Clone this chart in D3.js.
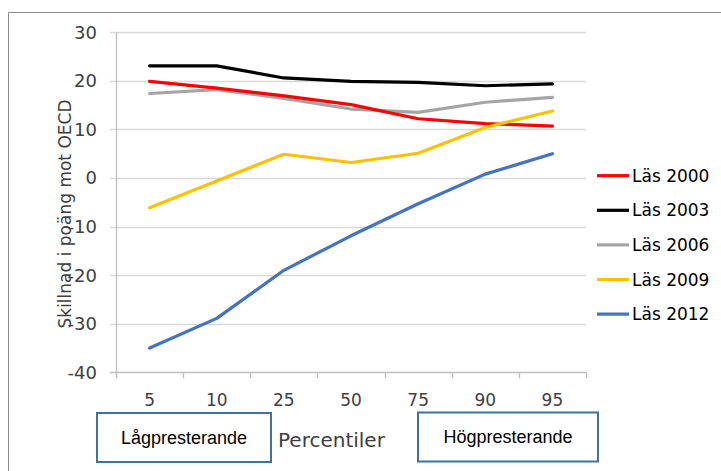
<!DOCTYPE html>
<html>
<head>
<meta charset="utf-8">
<script src="https://cdn.jsdelivr.net/npm/d3@7"></script>
<style>
  html, body { margin: 0; padding: 0; background: #fff; }
  svg { display: block; }
</style>
</head>
<body>
<svg id="chart" width="721" height="471"></svg>
<script>
const categories = ["5", "10", "25", "50", "75", "90", "95"];
const yTicks = [30, 20, 10, 0, -10, -20, -30, -40];
const las2000 = [19.9, 18.5, 16.9, 15.1, 12.2, 11.2, 10.7];
const las2003 = [23.1, 23.1, 20.6, 19.9, 19.7, 19.0, 19.4];
const las2006 = [17.4, 18.2, 16.4, 14.2, 13.5, 15.6, 16.6];
const las2009 = [-6.1, -0.6, 4.9, 3.2, 5.1, 10.4, 13.8];
const las2012 = [-35.0, -28.9, -19.0, -11.9, -5.3, 0.8, 5.0];
const seriesNames = ["Läs 2000", "Läs 2003", "Läs 2006", "Läs 2009", "Läs 2012"];
const seriesColors = ["#ff0000", "#000000", "#a5a5a5", "#ffc000", "#4472c4"];
const seriesValues = [las2000, las2003, las2006, las2009, las2012];
const drawOrder = [2, 1, 0, 3, 4];

const svg = d3.select("#chart");
const font = "'DejaVu Sans', sans-serif";

// outer frame
svg.append("path").attr("d", "M8.5,471 L8.5,12.5 L721,12.5")
  .attr("fill", "none").attr("stroke", "#8c8c8c").attr("stroke-width", 1);

const x = d3.scaleBand().domain(categories).range([116, 586]).padding(0);
const y = d3.scaleLinear().domain([-40, 30]).range([372.3, 32.3]);

// gridlines + y ticks
const grid = svg.append("g");
grid.selectAll("line").data(yTicks).enter().append("line")
  .attr("x1", 110).attr("x2", 586)
  .attr("y1", d => Math.round(y(d)) + 0.5).attr("y2", d => Math.round(y(d)) + 0.5)
  .attr("stroke", d => d === -40 ? "#bfbfbf" : "#d9d9d9").attr("stroke-width", 1.3);

// y axis line
svg.append("line").attr("x1", 116.5).attr("x2", 116.5)
  .attr("y1", y(30)).attr("y2", y(-40) + 6)
  .attr("stroke", "#bfbfbf").attr("stroke-width", 1.3);

// x axis ticks
const xAxis = d3.axisBottom(x).tickSize(0).tickFormat("");
const bounds = categories.map(c => x(c)).concat([x(categories[categories.length - 1]) + x.bandwidth()]);
svg.append("g").selectAll("line").data(bounds).enter().append("line")
  .attr("x1", d => Math.round(d) + 0.5).attr("x2", d => Math.round(d) + 0.5)
  .attr("y1", y(-40)).attr("y2", y(-40) + 6)
  .attr("stroke", "#bfbfbf").attr("stroke-width", 1.3);

// y tick labels
svg.append("g").selectAll("text").data(yTicks).enter().append("text")
  .attr("x", 97).attr("y", d => y(d))
  .attr("dy", "0.36em")
  .attr("text-anchor", "end")
  .attr("font-family", font).attr("font-size", 18).attr("fill", "#404040")
  .text(d => d);

// x tick labels
svg.append("g").selectAll("text").data(categories).enter().append("text")
  .attr("x", d => x(d) + x.bandwidth() / 2).attr("y", 406)
  .attr("text-anchor", "middle")
  .attr("font-family", font).attr("font-size", 17).attr("fill", "#404040")
  .text(d => d);

// y axis title
svg.append("text")
  .attr("transform", "translate(70.5,214) rotate(-90)")
  .attr("text-anchor", "middle")
  .attr("font-family", font).attr("font-size", 17).attr("fill", "#404040")
  .text("Skillnad i poäng mot OECD");

// x axis title
svg.append("text").attr("x", 278).attr("y", 447)
  .attr("font-family", font).attr("font-size", 20).attr("fill", "#404040")
  .text("Percentiler");

// lines
const line = d3.line()
  .x((d, i) => x(categories[i]) + x.bandwidth() / 2)
  .y(d => y(d));
svg.append("g").selectAll("path").data(drawOrder).enter().append("path")
  .attr("d", k => line(seriesValues[k]))
  .attr("fill", "none")
  .attr("stroke", k => seriesColors[k])
  .attr("stroke-width", 3.2)
  .attr("stroke-linejoin", "round")
  .attr("stroke-linecap", "round");

// legend
const legend = svg.append("g").selectAll("g").data(seriesNames).enter().append("g")
  .attr("transform", (d, i) => `translate(0,${175.7 + i * 34.6})`);
legend.append("line").attr("x1", 597).attr("x2", 629).attr("y1", 0).attr("y2", 0)
  .attr("stroke", (d, i) => seriesColors[i]).attr("stroke-width", 3.2);
legend.append("text").attr("x", 632).attr("y", 0).attr("dy", "0.36em")
  .attr("font-family", font).attr("font-size", 17).attr("fill", "#000")
  .text(d => d);

// annotation boxes
const boxes = [
  { label: "Lågpresterande", x0: 97, y0: 413, w: 174, h: 49 },
  { label: "Högpresterande", x0: 418, y0: 412.5, w: 180, h: 49 }
];
const bg = svg.append("g").selectAll("g").data(boxes).enter().append("g");
bg.append("rect").attr("x", d => d.x0).attr("y", d => d.y0)
  .attr("width", d => d.w).attr("height", d => d.h)
  .attr("fill", "#fff").attr("stroke", "#41719c").attr("stroke-width", 2);
bg.append("text").attr("x", d => d.x0 + d.w / 2).attr("y", d => d.y0 + d.h / 2)
  .attr("dy", "0.36em").attr("text-anchor", "middle")
  .attr("font-family", "'Liberation Sans', Arial, sans-serif").attr("font-size", 18)
  .attr("fill", "#000").text(d => d.label);
</script>
</body>
</html>
